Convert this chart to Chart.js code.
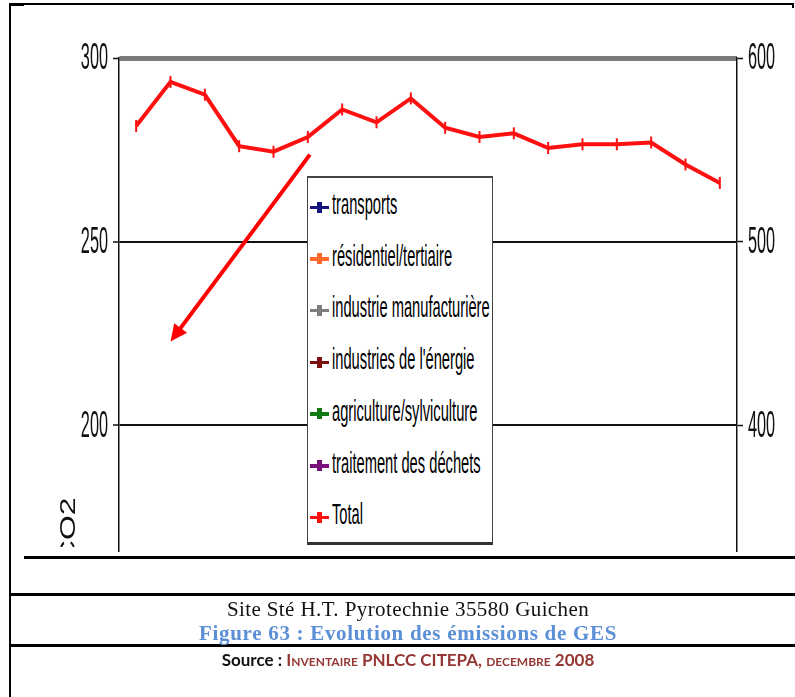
<!DOCTYPE html>
<html>
<head>
<meta charset="utf-8">
<script src="https://cdn.jsdelivr.net/npm/chart.js@4.4.1/dist/chart.umd.min.js"></script>
<style>
  body { margin: 0; width: 795px; height: 697px; position: relative; overflow: hidden; background: #fff; font-family: "Liberation Sans", Arial, sans-serif; }
  .ln { position: absolute; background: #000; }
  #plot { position: absolute; left: 0; top: 0; width: 795px; height: 552px; overflow: hidden; }
  #plot canvas { position: absolute; left: 0; top: 0; }
  #legend { position: absolute; left: 307px; top: 176px; width: 184px; height: 364px; border: 1.5px solid #444; border-top-width: 2px; border-bottom: 3px solid #333; background: #fff; }
  .mk { position: absolute; left: 2px; width: 19px; height: 3.5px; }
  .mk::after { content: ""; position: absolute; left: 7px; top: -4px; width: 4.5px; height: 11px; background: inherit; }
  .lab { position: absolute; left: 24px; font-size: 30px; line-height: 30px; white-space: nowrap; color: #000; transform: scaleX(0.49); transform-origin: 0 50%; }
  #tclip { position: absolute; left: 40px; top: 450px; width: 50px; height: 97px; overflow: hidden; }
  #ytitle { position: absolute; left: 0; top: 0; font-size: 22px; line-height: 22px; white-space: nowrap; color: #111; transform-origin: 0 0; transform: translate(17px, 113px) rotate(-90deg) scaleX(1.45); }
  .cap { position: absolute; left: 20px; width: 776px; text-align: center; white-space: nowrap; }
</style>
</head>
<body>
<div id="plot">
  <canvas id="myChart" width="795" height="617"></canvas>
  <div id="tclip"><span id="ytitle">CO2</span></div>
  <div id="legend"></div>
</div>

<div class="ln" style="left:10px;top:3px;width:783px;height:2px"></div>
<div class="ln" style="left:10px;top:3px;width:14px;height:3px"></div>
<div class="ln" style="left:792px;top:3px;width:2px;height:5px"></div>
<div class="ln" style="left:8.5px;top:3px;width:2px;height:694px"></div>
<div class="ln" style="left:24px;top:556px;width:771px;height:2.5px"></div>
<div class="ln" style="left:9px;top:593px;width:786px;height:2.5px"></div>
<div class="ln" style="left:9px;top:644px;width:786px;height:2.5px"></div>

<div class="cap" style="top:597px;font:21px 'Liberation Serif', serif;letter-spacing:0.4px;color:#111">Site Sté H.T. Pyrotechnie 35580 Guichen</div>
<div class="cap" style="top:621px;font:bold 21px 'Liberation Serif', serif;letter-spacing:0.7px;color:#5b8fd6">Figure 63 : Evolution des émissions de GES</div>
<div class="cap" style="top:649px;font:bold 17px Lato, sans-serif;color:#111">Source : <span style="color:#953735;font-variant:small-caps">Inventaire PNLCC CITEPA, decembre 2008</span></div>

<script>
const years = ["1990", "1991", "1992", "1993", "1994", "1995", "1996", "1997", "1998",
  "1999", "2000", "2001", "2002", "2003", "2004", "2005", "2006", "2007"];

// Mt CO2e, read on the right axis
const totalMt = [563, 587, 580, 552, 549, 557, 572, 565, 578, 562, 557, 559, 551, 553, 553, 554, 542, 532];

// sector series fall below the visible part of the chart
const sectorNames = ["transports", "résidentiel/tertiaire", "industrie manufacturière",
  "industries de l'énergie", "agriculture/sylviculture", "traitement des déchets"];
const sectorColors = ["#14147a", "#ff6a2a", "#7d7d7d", "#7a1010", "#107a10", "#7a107a"];

const leftTicks = [150, 200, 250, 300];
const rightTicks = [300, 400, 500, 600];

// arrow drawn over the chart, in data units (x index, left axis value)
const arrowFrom = [5.06, 273.7];
const arrowTo = [1.0, 222.8];

const datasets = sectorNames.map((name, i) => ({
  label: name,
  data: [],
  yAxisID: "y",
  borderColor: sectorColors[i],
  backgroundColor: sectorColors[i],
}));
datasets.push({
  label: "Total",
  data: totalMt,
  yAxisID: "y2",
  borderColor: "#ff1010",
  backgroundColor: "#ff1010",
  borderWidth: 4,
  pointStyle: "line",
  pointRotation: 90,
  pointRadius: 6,
  pointBorderWidth: 2,
  tension: 0,
});

const tickText = {
  id: "tickText",
  afterDraw(chart) {
    const c = chart.ctx;
    [["y", 108, "right"], ["y2", 748, "left"]].forEach(([id, x, align]) => {
      const s = chart.scales[id];
      s.ticks.forEach((t, i) => {
        c.save();
        c.translate(x, s.getPixelForTick(i));
        c.scale(0.44, 1);
        c.font = '37px "Liberation Sans", Arial';
        c.textAlign = align;
        c.textBaseline = "middle";
        c.fillStyle = "#111";
        c.fillText(String(t.value), 0, 1);
        c.restore();
      });
    });
  },
};

const arrow = {
  id: "arrow",
  afterDatasetsDraw(chart) {
    const c = chart.ctx, sx = chart.scales.x, sy = chart.scales.y;
    const x1 = sx.getPixelForValue(arrowFrom[0]), y1 = sy.getPixelForValue(arrowFrom[1]);
    const x2 = sx.getPixelForValue(arrowTo[0]), y2 = sy.getPixelForValue(arrowTo[1]);
    const a = Math.atan2(y2 - y1, x2 - x1), L = 17, W = 8;
    c.save();
    c.strokeStyle = "#ff0000";
    c.fillStyle = "#ff0000";
    c.lineWidth = 4;
    c.beginPath();
    c.moveTo(x1, y1);
    c.lineTo(x2 - Math.cos(a) * L * 0.8, y2 - Math.sin(a) * L * 0.8);
    c.stroke();
    c.beginPath();
    c.moveTo(x2, y2);
    c.lineTo(x2 - Math.cos(a) * L + Math.sin(a) * W, y2 - Math.sin(a) * L - Math.cos(a) * W);
    c.lineTo(x2 - Math.cos(a) * L - Math.sin(a) * W, y2 - Math.sin(a) * L + Math.cos(a) * W);
    c.closePath();
    c.fill();
    c.restore();
  },
};

const ctx = document.getElementById("myChart");

const chart = new Chart(ctx, {
  type: "line",
  data: { labels: years, datasets: datasets },
  options: {
    responsive: false,
    animation: false,
    devicePixelRatio: 1,
    layout: { padding: { top: 58, left: 0, right: 0, bottom: 0 } },
    plugins: { legend: { display: false }, tooltip: { enabled: false } },
    scales: {
      x: {
        offset: true,
        grid: { display: false, drawTicks: false },
        ticks: { display: false },
        border: { display: false },
        afterFit(s) { s.height = 0; },
      },
      y: {
        position: "left",
        min: leftTicks[0],
        max: leftTicks[leftTicks.length - 1],
        ticks: { stepSize: 50, display: false },
        grid: {
          color: (c) => (c.tick && c.tick.value === 300 ? "#7b7b7b" : "#111"),
          lineWidth: (c) => (c.tick && c.tick.value === 300 ? 5 : 2),
          tickColor: "#111",
          tickWidth: 1.5,
          tickLength: 6,
        },
        border: { color: "#111", width: 1.5 },
        afterFit(s) { s.width = 119; },
      },
      y2: {
        position: "right",
        min: rightTicks[0],
        max: rightTicks[rightTicks.length - 1],
        ticks: { stepSize: 100, display: false },
        grid: { drawOnChartArea: false, tickColor: "#111", tickWidth: 1.5, tickLength: 6 },
        border: { color: "#111", width: 1.5 },
        afterFit(s) { s.width = 58; },
      },
    },
  },
  plugins: [tickText, arrow],
});

// legend built from the chart's datasets
const legend = document.getElementById("legend");
chart.data.datasets.forEach((d, i) => {
  const cy = 29 + i * 51.7;
  const mk = document.createElement("div");
  mk.className = "mk";
  mk.style.top = (cy - 1.5) + "px";
  mk.style.background = d.borderColor;
  legend.appendChild(mk);
  const lab = document.createElement("span");
  lab.className = "lab";
  lab.style.top = (cy - 18) + "px";
  lab.textContent = d.label;
  legend.appendChild(lab);
});
</script>
</body>
</html>
